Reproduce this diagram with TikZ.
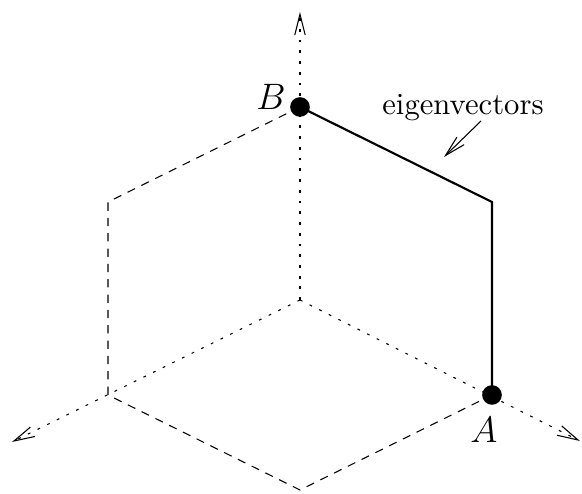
\documentclass[tikz,border=0pt]{standalone}
\usepackage{tikz}
\usetikzlibrary{positioning, arrows.meta, calc}
\tikzset{
  axisline/.style={line width=0.35pt, dash pattern=on 0.9pt off 2.6pt,
                   -{Straight Barb[length=6.8pt, width=3.4pt, line width=0.35pt]}},
  hiddenedge/.style={line width=0.35pt, dash pattern=on 2.7pt off 2.3pt},
  eigenline/.style={line width=0.7pt},
  pointdot/.style={circle, fill=black, inner sep=0pt, minimum size=6.4pt}
}

\begin{document}
\begin{tikzpicture}[x=0.326pt, y=-0.326pt]
    \useasboundingbox (0,0) rectangle (582,494);
    % corners of the box
    \coordinate (o) at (300,300);
    \coordinate (b) at (300,107);
    \coordinate (c) at (492,202);
    \coordinate (a) at (492,395);
    \coordinate (d) at (108,202);
    \coordinate (e) at (108,395);
    \coordinate (f) at (300,490);
    % axis tips
    \coordinate (zaxis) at (300,12);
    \coordinate (xaxis) at (12,442);
    \coordinate (yaxis) at (580,441);
    \draw[axisline] (o) -- (zaxis);
    \draw[axisline] (o) -- (xaxis);
    \draw[axisline] (o) -- (yaxis);
    \draw[hiddenedge] (b) -- (d) -- (e) -- (f) -- (a);
    \draw[eigenline] (b) -- (c) -- (a);
    \node[pointdot] (pb) at (b) {};
    \node[pointdot] (pa) at (a) {};
    \node[font=\large] (lb) at (271,97) {$B$};
    \node[font=\large] (la) at (484,430) {$A$};
    \node (eig) at (463,108) {eigenvectors};
    \coordinate (eigtail) at (481,121);
    \coordinate (eigtip) at (444,157);
    \draw[line width=0.35pt, -{Straight Barb[length=6.8pt, width=3.4pt]}] (eigtail) -- (eigtip);
  \end{tikzpicture}
\end{document}
